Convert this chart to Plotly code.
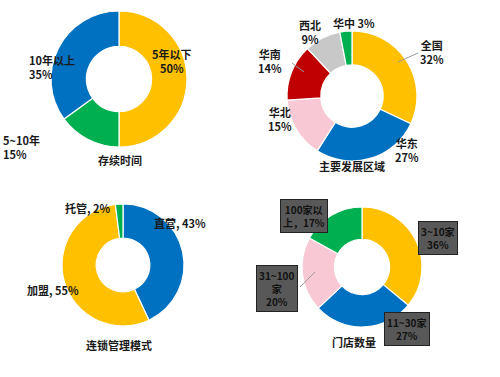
import plotly.graph_objects as go

W, H = 500, 377

# Chart 1: 存续时间
c1_labels = ["5年以下", "5~10年", "10年以上"]
c1_values = [50, 15, 35]
c1_colors = ["#FFC000", "#00B050", "#0070C0"]

# Chart 2: 主要发展区域
c2_labels = ["全国", "华东", "华北", "华南", "西北", "华中"]
c2_values = [32, 27, 15, 14, 9, 3]
c2_colors = ["#FFC000", "#0070C0", "#F8C8D4", "#C00000", "#C8C8C8", "#00B050"]

# Chart 3: 连锁管理模式
c3_labels = ["直营", "加盟", "托管"]
c3_values = [43, 55, 2]
c3_colors = ["#0070C0", "#FFC000", "#00B050"]

# Chart 4: 门店数量
c4_labels = ["3~10家", "11~30家", "31~100家", "100家以上"]
c4_values = [36, 27, 20, 17]
c4_colors = ["#FFC000", "#0070C0", "#F8C8D4", "#00B050"]

FONT = "Noto Sans CJK SC"


def px(x):
    return x / W


def py(y):
    return 1 - y / H


def dom(cx, cy, r):
    return dict(x=[px(cx - r), px(cx + r)], y=[py(cy + r), py(cy - r)])


fig = go.Figure()

pies = [
    (c1_labels, c1_values, c1_colors, dom(119, 79, 68), 0.48),
    (c2_labels, c2_values, c2_colors, dom(352, 96, 65), 0.48),
    (c3_labels, c3_values, c3_colors, dom(123, 265, 61), 0.44),
    (c4_labels, c4_values, c4_colors, dom(362, 267, 60), 0.46),
]
for labels, values, colors, d, hole in pies:
    fig.add_trace(go.Pie(
        labels=labels, values=values, sort=False, direction="clockwise",
        rotation=0, hole=hole, domain=d, textinfo="none",
        marker=dict(colors=colors, line=dict(color="white", width=1.2)),
        showlegend=False, hoverinfo="label+percent",
    ))

annots = []


def txt(x, y, text, align="center", size=11):
    annots.append(dict(x=px(x), y=py(y), xref="paper", yref="paper",
                       xanchor="center", yanchor="middle",
                       text="<b>" + text + "</b>", showarrow=False,
                       align=align, font=dict(family=FONT, size=size, color="#1a1a1a")))


def box(x, y, text):
    annots.append(dict(x=px(x), y=py(y), xref="paper", yref="paper",
                       xanchor="center", yanchor="middle",
                       text="<b>" + text + "</b>", showarrow=False, align="center",
                       bgcolor="#585858", bordercolor="#222222", borderwidth=1,
                       borderpad=2,
                       font=dict(family=FONT, size=10, color="#111111")))


# chart 1
txt(172, 61, f"{c1_labels[0]}<br>{c1_values[0]}%")
txt(52, 67, f"{c1_labels[2]}<br>{c1_values[2]}%", align="left")
txt(21, 147, f"{c1_labels[1]}<br>{c1_values[1]}%", align="left")
txt(120, 160, "存续时间")

# chart 2
txt(432, 52, f"{c2_labels[0]}<br>{c2_values[0]}%")
txt(407, 150, f"{c2_labels[1]}<br>{c2_values[1]}%")
txt(280, 119, f"{c2_labels[2]}<br>{c2_values[2]}%")
txt(270, 61, f"{c2_labels[3]}<br>{c2_values[3]}%")
txt(310, 32, f"{c2_labels[4]}<br>{c2_values[4]}%")
txt(354, 23, f"{c2_labels[5]} {c2_values[5]}%")
txt(352, 166, "主要发展区域")

# chart 3
txt(180, 223, f"{c3_labels[0]}, {c3_values[0]}%")
txt(53, 290, f"{c3_labels[1]}, {c3_values[1]}%")
txt(88, 208, f"{c3_labels[2]}, {c3_values[2]}%")
txt(119, 345, "连锁管理模式")

# chart 4
box(438, 238, f"{c4_labels[0]}<br>{c4_values[0]}%")
box(407, 329, f"{c4_labels[1]}<br>{c4_values[1]}%")
box(277, 288, f"31~100<br>家<br>{c4_values[2]}%")
box(304, 216, f"100家以<br>上，{c4_values[3]}%")
txt(354, 342, "门店数量")

# leader lines
shapes = []
for (x0, y0, x1, y1) in [(418, 53, 398, 62), (292, 63, 304, 72), (300, 287, 315, 272)]:
    shapes.append(dict(type="line", xref="paper", yref="paper",
                       x0=px(x0), y0=py(y0), x1=px(x1), y1=py(y1),
                       line=dict(color="#9a9a9a", width=1)))

fig.update_layout(
    width=W, height=H, margin=dict(l=0, r=0, t=0, b=0),
    paper_bgcolor="white", plot_bgcolor="white",
    annotations=annots, shapes=shapes,
)

fig.write_html("out.html",
               config={"displayModeBar": False},
               post_script="document.body.style.margin='0px';document.body.style.overflow='hidden';")
